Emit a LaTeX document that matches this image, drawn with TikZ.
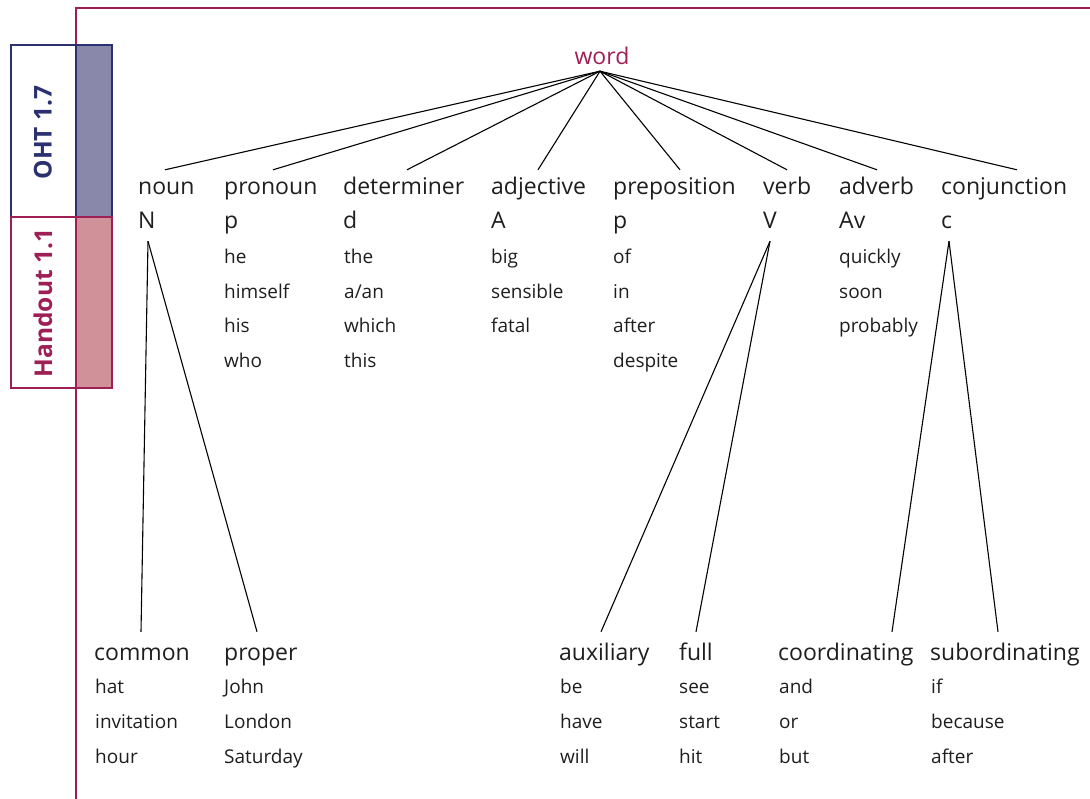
\documentclass[tikz,border=0pt]{standalone}
\usepackage{fontspec}
\setmainfont{Open Sans}
\definecolor{framered}{HTML}{9E1F56}
\definecolor{tabnavy}{HTML}{2B3170}
\definecolor{tabfillblue}{HTML}{8A88AA}
\definecolor{tabfillred}{HTML}{D09298}
\definecolor{inkgrey}{HTML}{1E1E1E}
\begin{document}
\begin{tikzpicture}[x=1pt,y=-1pt,
  cat/.style={anchor=base west,font=\fontsize{23}{27}\selectfont,text=inkgrey,
    inner xsep=0pt,inner ysep=9pt,text height=16pt,text depth=3pt},
  leaf/.style={cat,inner ysep=12pt},
  ex/.style={anchor=base west,font=\fontsize{19}{23}\selectfont,text=inkgrey,inner sep=0pt},
  link/.style={line width=1.1pt,black},
  tablabel/.style={rotate=90,font=\bfseries\fontsize{24.5}{28}\selectfont,inner sep=0pt}]
\useasboundingbox (0,0) rectangle (1090,799);

% page frame
\draw[framered,line width=1.3pt] (76,799) -- (76,8) -- (1090,8);

% side tabs
\fill[tabfillblue] (76,45) rectangle (112,217);
\draw[tabnavy,line width=1.4pt] (11,45) rectangle (112,217);
\draw[tabnavy,line width=1.4pt] (76,45) -- (76,217);
\fill[tabfillred] (76,217) rectangle (112,388);
\draw[framered,line width=1.4pt] (11,217) rectangle (112,388);
\draw[framered,line width=1.4pt] (76,217) -- (76,388);
\node[tablabel,text=tabnavy] (oht) at (43,132.5) {OHT 1.7};
\node[tablabel,text=framered] (handout) at (43,303) {Handout 1.1};

% root
\node[anchor=base,font=\fontsize{23}{27}\selectfont,text=framered,
  inner sep=6pt,text depth=0pt] (word) at (602,65) {word};
\coordinate (apex) at ([xshift=-2pt]word.south);

% word classes
\node[cat] (noun) at (138,195) {noun};
\node[cat] (nsym) at (138,229) {N};

\node[cat] (pron) at (224,195) {pronoun};
\node[cat] (psym) at (224,229) {p};
\node[ex] (p1) at (224,263.5) {he};
\node[ex] (p2) at (224,298.3) {himself};
\node[ex] (p3) at (224,333) {his};
\node[ex] (p4) at (224,367.7) {who};

\node[cat] (det) at (343,195) {determiner};
\node[cat] (dsym) at (343,229) {d};
\node[ex] (d1) at (344,263.5) {the};
\node[ex] (d2) at (344,298.3) {a/an};
\node[ex] (d3) at (344,333) {which};
\node[ex] (d4) at (344,367.7) {this};

\node[cat] (adj) at (491,195) {adjective};
\node[cat] (asym) at (491,229) {A};
\node[ex] (a1) at (491,263.5) {big};
\node[ex] (a2) at (491,298.3) {sensible};
\node[ex] (a3) at (491,333) {fatal};

\node[cat] (prep) at (613,195) {preposition};
\node[cat] (prsym) at (613,229) {p};
\node[ex] (pr1) at (613,263.5) {of};
\node[ex] (pr2) at (613,298.3) {in};
\node[ex] (pr3) at (613,333) {after};
\node[ex] (pr4) at (613,367.7) {despite};

\node[cat] (verb) at (763,195) {verb};
\node[cat] (vsym) at (763,229) {V};

\node[cat] (adv) at (839,195) {adverb};
\node[cat] (avsym) at (839,229) {Av};
\node[ex] (av1) at (839,263.5) {quickly};
\node[ex] (av2) at (839,298.3) {soon};
\node[ex] (av3) at (839,333) {probably};

\node[cat] (conj) at (941,195) {conjunction};
\node[cat] (csym) at (941,229) {c};

% subclasses
\node[leaf] (common) at (94,660) {common};
\node[ex] (c1) at (95,693.5) {hat};
\node[ex] (c2) at (95,728.2) {invitation};
\node[ex] (c3) at (95,763) {hour};

\node[leaf] (proper) at (224,660) {proper};
\node[ex] (pp1) at (224,693.5) {John};
\node[ex] (pp2) at (224,728.2) {London};
\node[ex] (pp3) at (224,763) {Saturday};

\node[leaf] (aux) at (559,660) {auxiliary};
\node[ex] (x1) at (560,693.5) {be};
\node[ex] (x2) at (560,728.2) {have};
\node[ex] (x3) at (560,763) {will};

\node[leaf] (full) at (679,660) {full};
\node[ex] (f1) at (679,693.5) {see};
\node[ex] (f2) at (679,728.2) {start};
\node[ex] (f3) at (679,763) {hit};

\node[leaf] (coord) at (778,660) {coordinating};
\node[ex] (co1) at (779,693.5) {and};
\node[ex] (co2) at (779,728.2) {or};
\node[ex] (co3) at (779,763) {but};

\node[leaf] (subord) at (930,660) {subordinating};
\node[ex] (s1) at (931,693.5) {if};
\node[ex] (s2) at (931,728.2) {because};
\node[ex] (s3) at (931,763) {after};

% branches from the root
\draw[link] (apex) -- ([xshift=27pt]noun.north west);
\draw[link] (apex) -- ([xshift=49pt]pron.north west);
\draw[link] (apex) -- ([xshift=64pt]det.north west);
\draw[link] (apex) -- ([xshift=47pt]adj.north west);
\draw[link] (apex) -- ([xshift=67pt]prep.north west);
\draw[link] (apex) -- ([xshift=24pt]verb.north west);
\draw[link] (apex) -- ([xshift=38pt]adv.north west);
\draw[link] (apex) -- ([xshift=76pt]conj.north west);

% branches to the subclasses
\draw[link] ([xshift=10pt]nsym.south west) -- ([xshift=47pt]common.north west);
\draw[link] ([xshift=10pt]nsym.south west) -- ([xshift=33pt]proper.north west);
\draw[link] ([xshift=7pt]vsym.south west) -- ([xshift=42pt]aux.north west);
\draw[link] ([xshift=7pt]vsym.south west) -- ([xshift=17pt]full.north west);
\draw[link] ([xshift=8pt]csym.south west) -- ([xshift=114pt]coord.north west);
\draw[link] ([xshift=8pt]csym.south west) -- ([xshift=68pt]subord.north west);
\end{tikzpicture}
\end{document}
